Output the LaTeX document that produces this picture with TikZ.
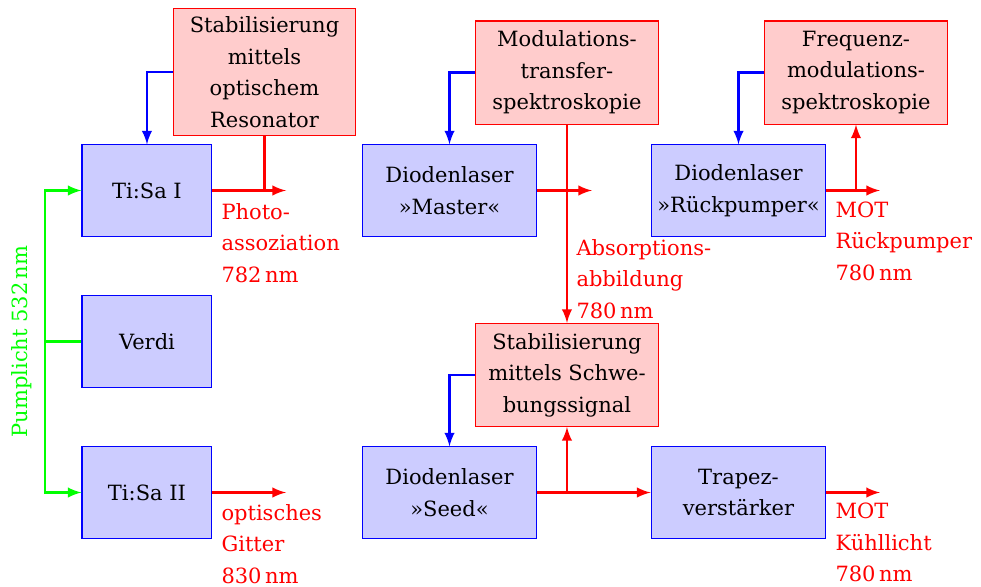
\documentclass[tikz,border=0pt]{standalone}
\usepackage{fontspec}
\setmainfont{DejaVu Serif}
\tikzset{
    laser/.style = {draw=blue, fill=blue!20, align=center, minimum width=1.74cm, minimum height=1.22cm, inner xsep=1pt},
    diode/.style = {laser, minimum width=2.34cm},
    regler/.style = {draw=red, fill=red!20, align=center, minimum width=2.44cm, minimum height=1.38cm, inner xsep=1pt, inner ysep=3pt},
    strahl/.style = {red, thick},
    signal/.style = {blue, thick, -latex},
    pump/.style = {green, thick},
    wellen/.style = {red, align=left, anchor=north west, inner sep=0pt}
}

\begin{document}
\begin{tikzpicture}[font=\fontsize{8}{12}\selectfont]
    \useasboundingbox (0,0) rectangle (13.136,-7.860);

    % Laser
    \node[laser] (tisaI) at (1.968,-2.551) {Ti:Sa I};
    \node[laser] (verdi) at (1.968,-4.573) {Verdi};
    \node[laser] (tisaII) at (1.968,-6.595) {Ti:Sa II};
    \node[diode] (master) at (6.019,-2.551) {Diodenlaser\\»Master«};
    \node[diode] (rueck) at (9.889,-2.551) {Diodenlaser\\»Rückpumper«};
    \node[diode] (seed) at (6.019,-6.595) {Diodenlaser\\»Seed«};
    \node[diode] (trapez) at (9.889,-6.595) {Trapez-\\verstärker};

    % Stabilisierung
    \node[regler] (resonator) at (3.542,-0.964) {Stabilisierung\\mittels\\optischem\\Resonator};
    \node[regler] (mts) at (7.592,-0.971) {Modulations-\\transfer-\\spektroskopie};
    \node[regler] (fms) at (11.462,-0.971) {Frequenz-\\modulations-\\spektroskopie};
    \node[regler] (schwebung) at (7.592,-5.021) {Stabilisierung\\mittels Schwe-\\bungssignal};

    % Pumplicht
    \coordinate (gabel) at (0.603,-4.573);
    \node[green, rotate=90] (pumplbl) at (0.295,-4.573) {Pumplicht 532\,nm};
    \draw[pump] (verdi.west) -- (gabel);
    \draw[pump, -latex] (gabel) |- (tisaI.west);
    \draw[pump, -latex] (gabel) |- (tisaII.west);

    % Regelsignale
    \draw[signal] (resonator.west) -| (tisaI.north);
    \draw[signal] (mts.west) -| (master.north);
    \draw[signal] (fms.west) -| (rueck.north);
    \draw[signal] (schwebung.west) -| (seed.north);

    % Strahlen
    \coordinate (photo) at (3.830,-2.551);
    \coordinate (gitter) at (3.830,-6.595);
    \coordinate (abb) at (7.927,-2.551);
    \coordinate (motR) at (11.783,-2.551);
    \coordinate (motK) at (11.783,-6.595);

    \draw[strahl, -latex] (tisaI.east) -- (photo);
    \draw[strahl] (resonator.south) -- (resonator.south |- tisaI.east);
    \draw[strahl, -latex] (tisaII.east) -- (gitter);
    \draw[strahl, -latex] (master.east) -- (abb);
    \draw[strahl, -latex] (mts.south) -- (schwebung.north);
    \draw[strahl, -latex] (rueck.east) -- (motR);
    \draw[strahl, -latex] (fms.south |- rueck.east) -- (fms.south);
    \draw[strahl, -latex] (seed.east) -- (trapez.west);
    \draw[strahl, -latex] (schwebung.south |- seed.east) -- (schwebung.south);
    \draw[strahl, -latex] (trapez.east) -- (motK);

    % Beschriftung
    \node[wellen] (photolbl) at (2.959,-2.718) {Photo-\\assoziation\\782\,nm};
    \node[wellen] (gitterlbl) at (2.959,-6.749) {optisches\\Gitter\\830\,nm};
    \node[wellen] (abblbl) at (7.713,-3.195) {Absorptions-\\abbildung\\780\,nm};
    \node[wellen] (motRlbl) at (11.181,-2.691) {MOT\\Rückpumper\\780\,nm};
    \node[wellen] (motKlbl) at (11.181,-6.730) {MOT\\Kühllicht\\780\,nm};
\end{tikzpicture}
\end{document}
